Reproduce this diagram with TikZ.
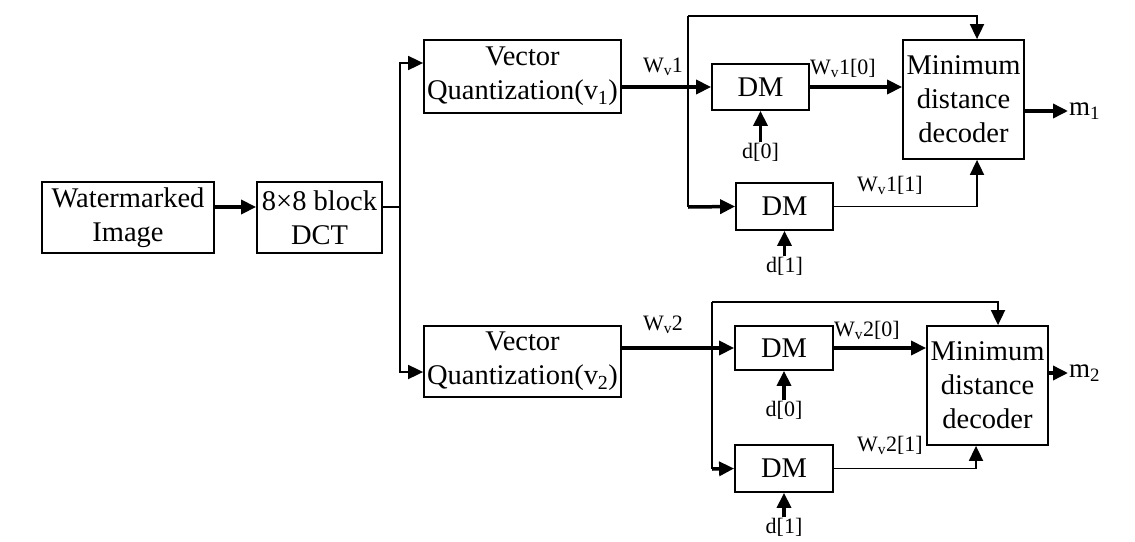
\documentclass[tikz,border=0pt]{standalone}
\usepackage{fontspec}
\setmainfont{Liberation Serif}
\usetikzlibrary{arrows.meta}
\begin{document}
\begin{tikzpicture}[x=1pt,y=-1pt,
  box/.style={draw, line width=1.8pt, inner sep=0pt, align=center, font=\fontsize{28.5}{34}\selectfont},
  lbl/.style={inner sep=1pt, font=\fontsize{22}{26}\selectfont},
  outlbl/.style={inner sep=1pt, font=\fontsize{27}{30}\selectfont},
  wire/.style={line width=1.8pt},
  bus/.style={line width=3.5pt},
  arr/.style={-{Triangle[length=15pt,width=14pt]}}]
\useasboundingbox (0,0) rectangle (1135,541);

% blocks
\node[box, minimum width=172pt, minimum height=71pt] (wm) at (128,217.5) {Watermarked\\Image};
\node[box, minimum width=125pt, minimum height=71pt] (dct) at (319.5,217.5) {8×8 block\\DCT};
\node[box, minimum width=197pt, minimum height=73pt] (vq1) at (522.5,76.5) {Vector\\Quantization(v\textsubscript{1})};
\node[box, minimum width=197pt, minimum height=71pt] (vq2) at (522.5,361.5) {Vector\\Quantization(v\textsubscript{2})};
\node[box, minimum width=97pt, minimum height=46pt] (dm1) at (760.5,87) {DM};
\node[box, minimum width=97pt, minimum height=47pt] (dm2) at (784.5,206.5) {DM};
\node[box, minimum width=98pt, minimum height=44pt] (dm3) at (784,348) {DM};
\node[box, minimum width=98pt, minimum height=47pt] (dm4) at (784,468.5) {DM};
\node[box, minimum width=121pt, minimum height=119pt] (min1) at (963.5,99.5) {Minimum\\distance\\decoder};
\node[box, minimum width=121pt, minimum height=119pt] (min2) at (987.5,385.5) {Minimum\\distance\\decoder};

% labels
\node[lbl] (wv1) at (663,67) {W\textsubscript{v}1};
\node[lbl] (wv10) at (843,68) {W\textsubscript{v}1[0]};
\node[lbl] (wv11) at (890,185) {W\textsubscript{v}1[1]};
\node[lbl] (wv2) at (663,325) {W\textsubscript{v}2};
\node[lbl] (wv20) at (867,330) {W\textsubscript{v}2[0]};
\node[lbl] (wv21) at (890,445) {W\textsubscript{v}2[1]};
\node[lbl] (d10) at (760.5,152) {d[0]};
\node[lbl] (d11) at (784.5,266) {d[1]};
\node[lbl] (d20) at (784,410) {d[0]};
\node[lbl] (d21) at (784,527) {d[1]};
\node[outlbl, anchor=west] (m1) at (1068,111) {m\textsubscript{1}};
\node[outlbl, anchor=west] (m2) at (1068,373) {m\textsubscript{2}};

% coordinates
\coordinate (sp) at (400,207);
\coordinate (b1) at (688,88);
\coordinate (t1) at (688,16);
\coordinate (c1) at (688,207);
\coordinate (b2) at (712,348);
\coordinate (t2) at (712,302);
\coordinate (c2) at (712,469);

% front end
\draw[bus, arr] ([yshift=10.5pt]wm.east) -- ([yshift=10.5pt]dct.west);
\draw[wire] ([yshift=10.5pt]dct.east) -- (sp);
\draw[wire, arr] (sp) |- ([yshift=13.5pt]vq1.west);
\draw[wire, arr] (sp) |- ([yshift=-10.5pt]vq2.west);

% upper branch
\draw[bus, arr] (vq1.east |- dm1.west) -- (dm1.west);
\draw[wire] (t1) -- (c1);
\draw[wire, arr] (t1) -| ([xshift=13.5pt]min1.north);
\draw[bus, arr] (c1) -- (dm2.west);
\draw[bus, arr] (dm1.east) -- (dm1.east -| min1.west);
\draw[wire, arr] (dm2.east) -| ([xshift=13.5pt]min1.south);
\draw[bus, arr] (d10.north) -- (dm1.south);
\draw[bus, arr] (d11.north) -- (dm2.south);
\draw[bus, arr] ([yshift=-11.5pt]min1.east) -- (m1.west);

% lower branch
\draw[bus, arr] (vq2.east |- dm3.west) -- (dm3.west);
\draw[wire] (t2) -- (c2);
\draw[wire, arr] (t2) -| ([xshift=10.5pt]min2.north);
\draw[bus, arr] (c2) -- (dm4.west);
\draw[bus, arr] (dm3.east) -- (dm3.east -| min2.west);
\draw[wire, arr] (dm4.east) -| ([xshift=-11.5pt]min2.south);
\draw[bus, arr] (d20.north) -- (dm3.south);
\draw[bus, arr] (d21.north) -- (dm4.south);
\draw[bus, arr] ([yshift=12.5pt]min2.east) -- (m2.west);
\end{tikzpicture}
\end{document}
